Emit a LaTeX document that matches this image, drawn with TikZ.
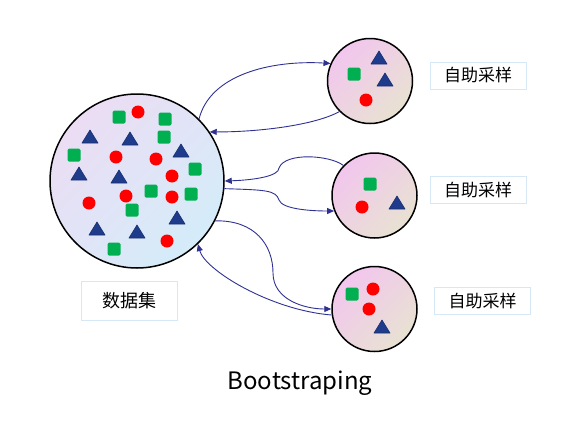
\documentclass[tikz,border=0pt]{standalone}
\usepackage{fontspec}
\setmainfont{Noto Sans CJK SC}
\usetikzlibrary{arrows.meta}
\definecolor{sqgreen}{RGB}{0,176,80}
\definecolor{dotred}{RGB}{255,0,0}
\definecolor{triblue}{RGB}{31,60,140}
\definecolor{arrowblue}{RGB}{46,49,146}
\definecolor{boxline}{RGB}{214,232,245}
\definecolor{bigA}{RGB}{236,221,244}
\definecolor{bigB}{RGB}{212,236,249}
\definecolor{smA}{RGB}{242,198,238}
\definecolor{smB}{RGB}{232,226,210}
\newcommand\mysq[1]{\fill[sqgreen,rounded corners=1.5pt] (#1) +(-6.5,-6.5) rectangle +(6.5,6.5);}
\newcommand\mydot[1]{\fill[dotred] (#1) circle[radius=6.5];}
\newcommand\mytri[1]{\filldraw[fill=triblue,draw=triblue!80!black,line width=0.6pt,line join=round] (#1) +(0,-7) -- +(8,6) -- +(-8,6) -- cycle;}
\begin{document}
\begin{tikzpicture}[x=1pt,y=-1pt,
  bigc/.style={circle,draw=black,line width=1.5pt,minimum size=174pt,inner sep=0pt,top color=bigA,bottom color=bigB,shading angle=45},
  smc/.style={circle,draw=black,line width=1.5pt,minimum size=85pt,inner sep=0pt,top color=smA,bottom color=smB,shading angle=45},
  lab/.style={draw=boxline,line width=0.8pt,fill=white,minimum width=96pt,minimum height=27pt,inner sep=0pt,font=\fontsize{17}{20}\selectfont},
  arr/.style={draw=arrowblue,line width=0.9pt,-{Triangle[length=7pt,width=6pt]}}]
\useasboundingbox (0,0) rectangle (574,421);
\node[bigc] (B) at (137,181) {};
\node[smc] (s1) at (370,81) {};
\node[smc] (s2) at (374.5,195.5) {};
\node[smc] (s3) at (374.5,309) {};
\node[lab] (l1) at (478,75.5) {自助采样};
\node[lab] (l2) at (478,190) {自助采样};
\node[lab] (l3) at (482.5,301) {自助采样};
\node[lab,minimum height=39pt,font=\fontsize{18}{21}\selectfont] (l0) at (129,300.5) {数据集};
\node[font=\fontsize{24}{28}\selectfont] (title) at (300,383) {Bootstraping};
% big circle contents
\mysq{119,117}\mysq{165,119}\mysq{164,137}\mysq{74,155}\mysq{195,169}
\mysq{151,191}\mysq{191,194}\mysq{132,210}\mysq{114,249}
\mydot{138,112}\mydot{116,157}\mydot{156,159}\mydot{172,176}\mydot{126,196}
\mydot{172,197}\mydot{89,203}\mydot{167,241}
\mytri{90,137}\mytri{130,139}\mytri{181,151}\mytri{79,174}\mytri{119,177}
\mytri{177,218}\mytri{97,229}\mytri{137,232}
% small circle 1
\mytri{379,58}\mysq{354,74}\mytri{385,80}\mydot{366,100}
% small circle 2
\mysq{370,184}\mydot{362,207}\mytri{397,203}
% small circle 3
\mysq{352,294}\mydot{373,289}\mydot{369,309}\mytri{382,327}
% arrows
\draw[arr] (B.45) .. controls (210,75) and (270,60) .. (s1.156);
\draw[arr] (s1.225) .. controls (315,125) and (260,132) .. (B.34);
\draw[arr] (s2.136) .. controls (330,155) and (285,152) .. (279,168) .. controls (279,176) and (255,180) .. (B.0);
\draw[arr] (B.-5) .. controls (265,190) and (276,190) .. (279,200) .. controls (282,209) and (310,211) .. (s2.201);
\draw[arr] (B.-27) .. controls (255,220) and (273,245) .. (273,273) .. controls (273,300) and (305,309) .. (s3.180);
\draw[arr] (s3.188) .. controls (270,310) and (205,270) .. (B.-46);
\end{tikzpicture}
\end{document}
